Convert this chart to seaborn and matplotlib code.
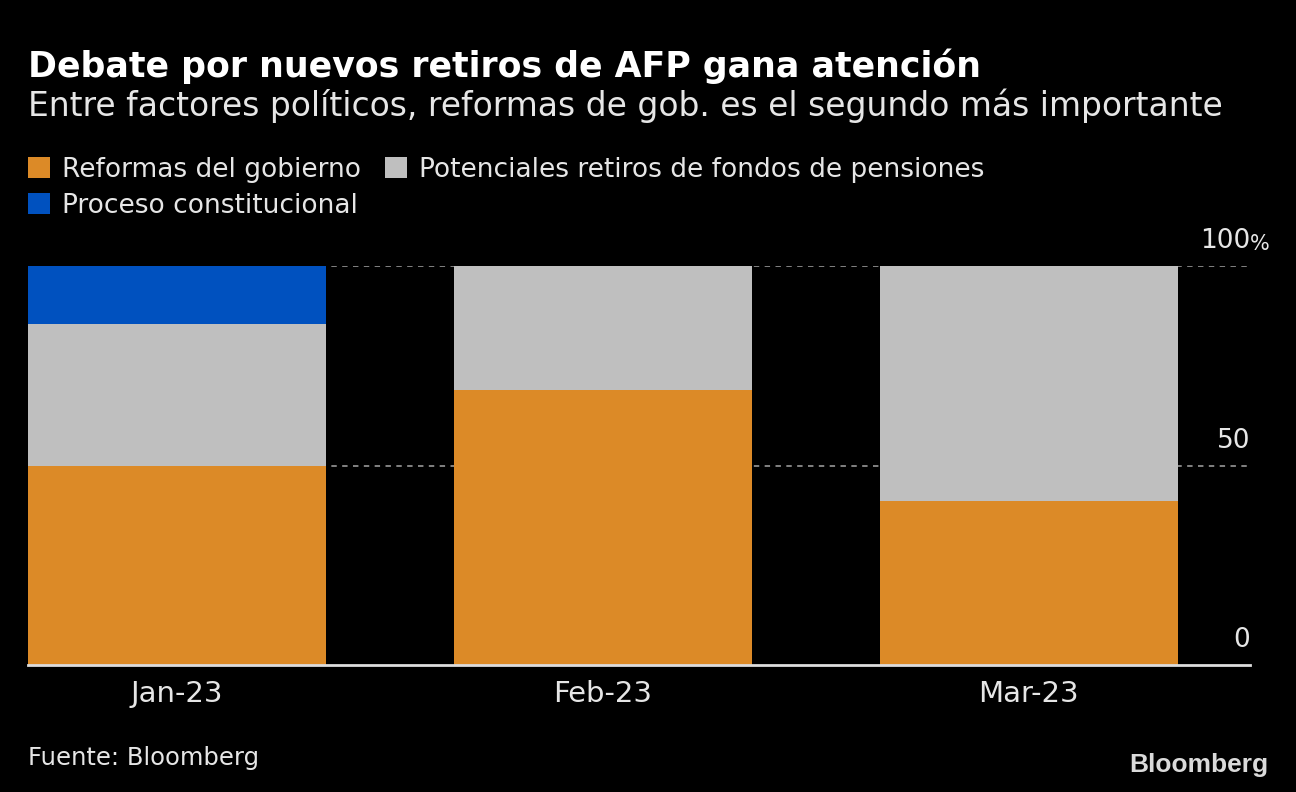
#!/usr/bin/env python3

"""Stacked 100% bar chart: AFP retirement debate (Bloomberg style)."""

import numpy as np
import pandas as pd
import seaborn as sns
import matplotlib.pyplot as plt
import matplotlib.transforms as mtransforms
from matplotlib.patches import Patch

# DATA
months = ["Jan-23", "Feb-23", "Mar-23"]
series_names = ["Reformas del gobierno",
                "Potenciales retiros de fondos de pensiones",
                "Proceso constitucional"]
reformas = [50.0, 69.0, 41.0]
potenciales = [35.5, 31.0, 59.0]
proceso = [14.5, 0.0, 0.0]
y_ticks = [0, 50, 100]

title = "Debate por nuevos retiros de AFP gana atención"
subtitle = "Entre factores políticos, reformas de gob. es el segundo más importante"
source = "Fuente: Bloomberg"

# COLORS
col_orange = "#DC8A27"
col_gray = "#BFBFBF"
col_blue = "#0051BF"
bg = "#000000"
txt = "#E6E6E6"

sns.set_theme(style="dark")
plt.rcParams["font.family"] = ["DejaVu Sans"]

df = pd.DataFrame({"month": months,
                   "reformas": reformas,
                   "potenciales": potenciales,
                   "proceso": proceso})
df["cum1"] = df["reformas"]
df["cum2"] = df["cum1"] + df["potenciales"]
df["cum3"] = df["cum2"] + df["proceso"]

fig = plt.figure(figsize=(12.96, 7.92), dpi=100, facecolor=bg)
ax = fig.add_axes([28 / 1296, 1 - 665 / 792, (1250 - 28) / 1296, (665 - 266) / 792])
ax.set_facecolor(bg)

# grid lines behind bars
for t in y_ticks[1:]:
    ax.axhline(t, color="#8C8C8C", lw=1.3, ls=(0, (3, 3)), zorder=0)

# stacked bars, drawn top segment first
for col, c in [("cum3", col_blue), ("cum2", col_gray), ("cum1", col_orange)]:
    sns.barplot(data=df, x="month", y=col, color=c, width=0.7,
                errorbar=None, saturation=1, ax=ax, zorder=2, linewidth=0)

ax.set_xlim(-0.35, 2.52)
ax.set_ylim(0, 100)
ax.set_xlabel("")
ax.set_ylabel("")
ax.grid(False)
for s in ["top", "right", "left"]:
    ax.spines[s].set_visible(False)
ax.spines["bottom"].set_color("#DDDDDD")
ax.spines["bottom"].set_linewidth(2)
ax.spines["bottom"].set_zorder(5)

ax.tick_params(axis="x", length=0, pad=11, labelsize=21, colors=txt)
ax.set_yticks([])

# y tick labels on the right, above grid lines
off = mtransforms.offset_copy(ax.get_yaxis_transform(), fig=fig, x=0, y=12, units="dots")
for t in y_ticks:
    ax.text(1.0, t, str(t), transform=off, ha="right", va="bottom",
            fontsize=19, color=txt, clip_on=False)
    if t == y_ticks[-1]:
        ax.text(1.0, t, "%", transform=off, ha="left", va="bottom",
                fontsize=15, color=txt, clip_on=False)

# TITLES
fig.text(28 / 1296, 1 - 77 / 792, title, fontsize=25, fontweight="bold",
         color="white", va="baseline", ha="left")
fig.text(28 / 1296, 1 - 116 / 792, subtitle, fontsize=23.7,
         color=txt, va="baseline", ha="left")

# LEGEND
handles = [Patch(facecolor=col_orange, edgecolor="none", label=series_names[0]),
           Patch(facecolor=col_blue, edgecolor="none", label=series_names[2]),
           Patch(facecolor=col_gray, edgecolor="none", label=series_names[1])]
leg = fig.legend(handles=handles, loc="upper left", ncol=2,
                 bbox_to_anchor=(28 / 1296, 1 - 157 / 792),
                 frameon=False, fontsize=19, labelcolor=txt,
                 handlelength=0.85, handleheight=0.85, handletextpad=0.45,
                 columnspacing=0.9, labelspacing=0.38, borderaxespad=0, borderpad=0)

# FOOTER
fig.text(28 / 1296, 1 - 765 / 792, source, fontsize=17.5, color=txt,
         va="baseline", ha="left")
fig.text(1268 / 1296, 1 - 772 / 792, "Bloomberg", fontsize=19, fontweight="bold",
         family=["Liberation Sans", "DejaVu Sans"], color="#DADADA",
         va="baseline", ha="right")

plt.savefig("out.png", dpi=100, facecolor=bg)
